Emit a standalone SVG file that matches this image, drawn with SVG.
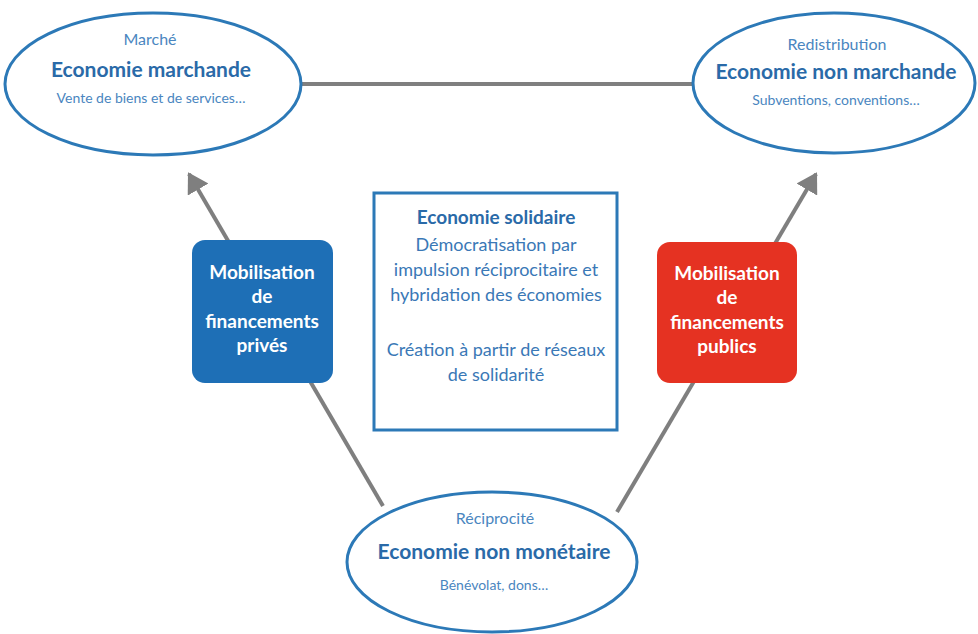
<svg xmlns="http://www.w3.org/2000/svg" width="978" height="634" viewBox="0 0 978 634">
<style>
.ell{fill:#ffffff;stroke:#2c79b7;stroke-width:3}
.t{font-family:Lato,"Liberation Sans",sans-serif;text-anchor:middle}
.sm{font-size:16px;fill:#4a86c0}
.bd{font-size:21px;font-weight:bold;fill:#2a6aa8}
.xs{font-size:14px;fill:#4a86c0}
.bx{font-size:18px;fill:#3a78b6}
.wh{font-size:19px;font-weight:bold;fill:#ffffff}
.con{stroke:#7f7f7f;stroke-width:4;fill:none}
</style>
<defs>
<marker id="ah" markerWidth="6" markerHeight="6" refX="4.5" refY="3" orient="auto" markerUnits="strokeWidth">
<path d="M0,0 L5,3 L0,6 Z" fill="#7f7f7f"/>
</marker>
</defs>
<rect width="978" height="634" fill="#ffffff"/>
<g id="connectors">
<line class="con" x1="300" y1="84" x2="695" y2="84"/>
<line class="con" x1="383" y1="506" x2="189" y2="174" marker-end="url(#ah)"/>
<line class="con" x1="617" y1="512" x2="816" y2="174" marker-end="url(#ah)"/>
</g>
<g id="marche">
<ellipse class="ell" cx="153" cy="84" rx="148" ry="71"/>
<text class="t sm" x="150" y="45">Marché</text>
<text class="t bd" x="151" y="77">Economie marchande</text>
<text class="t xs" x="151" y="103">Vente de biens et de services…</text>
</g>
<g id="redistribution">
<ellipse class="ell" cx="834" cy="83" rx="141" ry="70"/>
<text class="t sm" x="837" y="50">Redistribution</text>
<text class="t bd" x="836" y="79">Economie non marchande</text>
<text class="t xs" x="836" y="105">Subventions, conventions…</text>
</g>
<g id="reciprocite">
<ellipse class="ell" cx="492" cy="562" rx="145" ry="70"/>
<text class="t sm" x="495" y="524">Réciprocité</text>
<text class="t bd" x="494" y="559">Economie non monétaire</text>
<text class="t xs" x="494" y="590">Bénévolat, dons…</text>
</g>
<g id="solidaire">
<rect x="374" y="193" width="243" height="237" fill="#ffffff" stroke="#2c79b7" stroke-width="3"/>
<text class="t" x="496" y="224" style="font-size:19px;font-weight:bold;fill:#2a6aa8">Economie solidaire</text>
<text class="t bx" x="496" y="251">Démocratisation par</text>
<text class="t bx" x="496" y="276">impulsion réciprocitaire et</text>
<text class="t bx" x="496" y="301">hybridation des économies</text>
<text class="t bx" x="496" y="356">Création à partir de réseaux</text>
<text class="t bx" x="496" y="381">de solidarité</text>
</g>
<g id="prives">
<rect x="192" y="240" width="141" height="143" rx="13" fill="#1e6fb6"/>
<text class="t wh" x="262" y="279">Mobilisation</text>
<text class="t wh" x="262" y="303">de</text>
<text class="t wh" x="262" y="328">financements</text>
<text class="t wh" x="262" y="352">privés</text>
</g>
<g id="publics">
<rect x="657" y="242" width="140" height="141" rx="13" fill="#e53222"/>
<text class="t wh" x="727" y="280">Mobilisation</text>
<text class="t wh" x="727" y="304">de</text>
<text class="t wh" x="727" y="329">financements</text>
<text class="t wh" x="727" y="353">publics</text>
</g>
</svg>
